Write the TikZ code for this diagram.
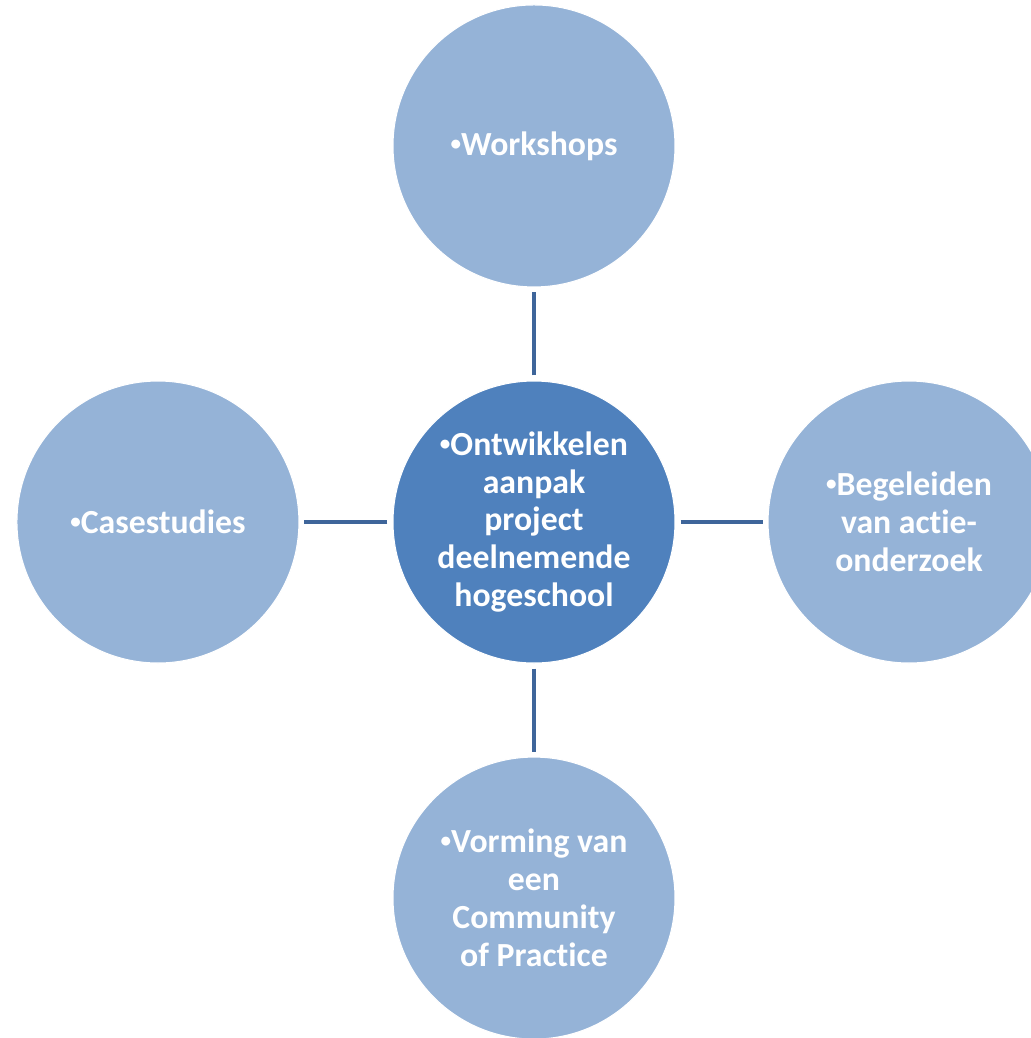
\documentclass[tikz,border=0pt]{standalone}
\usepackage{fontspec}
\setmainfont[Ligatures=NoCommon]{Carlito}
\usepackage{xcolor}
\usetikzlibrary{positioning}

\definecolor{outerblue}{HTML}{95B3D7}
\definecolor{centerblue}{HTML}{4F81BD}
\definecolor{linkblue}{HTML}{3E659A}

\newcommand{\itemdot}{\raisebox{0.3ex}{\fontsize{6}{6}\selectfont•}}

\begin{document}
\begin{tikzpicture}[
    node distance=0.93cm,
    bubble/.style={circle, fill=outerblue, draw=white, line width=0.3pt, minimum size=2.82cm, inner sep=0pt, align=center, text=white, font=\fontsize{9.6}{10.8}\selectfont\bfseries},
    hub/.style={bubble, fill=centerblue},
    link/.style={draw=linkblue, line width=1.4pt, shorten <=0.05cm, shorten >=0.05cm}
]
\clip (0,0) rectangle (10.31,-10.38);
\useasboundingbox (0,0) rectangle (10.31,-10.38);

\node[hub] (center) at (5.34,-5.22) {\itemdot Ontwikkelen\\aanpak\\project\\deelnemende\\hogeschool};
\node[bubble, above=of center] (workshops) {\itemdot Workshops};
\node[bubble, left=of center] (cases) {\itemdot Casestudies};
\node[bubble, right=of center, xshift=-0.01cm] (action) {\itemdot Begeleiden\\van actie-\\onderzoek};
\node[bubble, below=of center] (cop) {\itemdot Vorming van\\een\\Community\\of Practice};

\draw[link] (center) -- (workshops);
\draw[link] (center) -- (cases);
\draw[link] (center) -- (action);
\draw[link] (center) -- (cop);

\end{tikzpicture}
\end{document}
